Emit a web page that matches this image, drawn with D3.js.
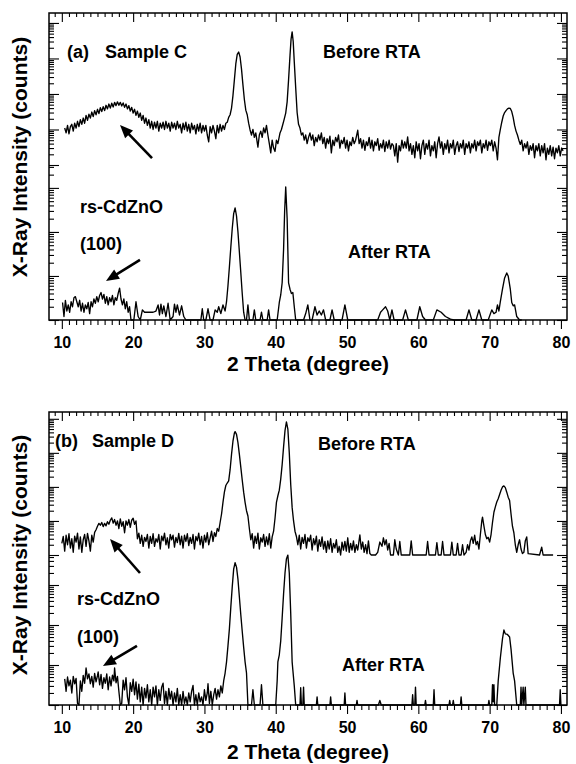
<!DOCTYPE html>
<html><head><meta charset="utf-8">
<script src="https://cdn.jsdelivr.net/npm/d3@7/dist/d3.min.js"></script>
<style>
body{margin:0;background:#fff}
svg text{font-family:"Liberation Sans",Arial,Helvetica,sans-serif;font-weight:bold;fill:#000}
</style></head><body>
<svg id="chart" width="576" height="764"></svg>
<script>
// ---------------- DATA ----------------
const xTickLabels = [10, 20, 30, 40, 50, 60, 70, 80];
const xTitle = "2 Theta (degree)";
const yTitle = "X-Ray Intensity (counts)";

// Panel (a) Sample C, before RTA: [2theta (deg), counts]
const aBefore = [[10.4,11],[10.6,8],[10.8,13],[11.0,7.5],[11.2,12],[11.4,14],[11.6,9],[11.8,15],[12.0,11],[12.2,17],[12.4,12],[12.6,19],[12.8,14],[13.0,21],[13.2,15],[13.4,25],[13.6,18],[13.8,27],[14.0,21],[14.2,31],[14.4,23],[14.6,34],[14.8,26],[15.0,37],[15.2,28],[15.4,41],[15.6,32],[15.8,44],[16.0,34],[16.2,48],[16.4,38],[16.6,52],[16.8,40],[17.0,55],[17.2,43],[17.4,58],[17.6,47],[17.8,60],[18.0,48],[18.2,58],[18.4,46],[18.6,56],[18.8,42],[19.0,52],[19.2,38],[19.4,47],[19.6,33],[19.8,42],[20.0,29],[20.2,37],[20.4,25],[20.6,33],[20.8,22],[21.0,29],[21.2,18],[21.4,25],[21.6,15],[21.8,21],[22.0,13],[22.2,19],[22.4,11],[22.6,17],[22.8,10],[23.0,16],[23.2,11],[23.4,17],[23.6,9],[23.8,15],[24.0,11],[24.2,16],[24.4,10],[24.6,17],[24.8,11],[25.0,15],[25.2,9],[25.4,16],[25.6,11],[25.8,15],[26.0,10],[26.2,17],[26.4,11],[26.6,14],[26.8,8],[27.0,15],[27.2,10],[27.4,16],[27.6,9],[27.8,14],[28.0,8],[28.2,15],[28.4,10],[28.6,13],[28.8,7.5],[29.0,14],[29.2,9],[29.4,15],[29.6,8],[29.8,13],[30.0,9],[30.2,13],[30.4,7],[30.6,4.5],[30.8,12],[31.0,8],[31.2,13],[31.4,9],[31.6,5.5],[31.8,13],[32.0,8],[32.2,14],[32.4,9],[32.6,13],[32.8,10],[33.0,15],[33.2,16],[33.4,22],[33.6,26],[33.8,40],[34.0,90],[34.2,250],[34.4,700],[34.6,1300],[34.8,1520],[35.0,1100],[35.2,500],[35.4,180],[35.6,70],[35.8,35],[36.0,26],[36.2,15],[36.4,9.7],[36.6,7],[36.8,10],[37.0,6],[37.2,8],[37.5,3.2],[37.7,7],[37.9,9],[38.1,6],[38.3,11],[38.5,8],[38.7,13],[38.9,7],[39.1,4],[39.3,2.2],[39.5,5],[39.7,3],[39.9,2.4],[40.1,5],[40.3,4],[40.6,8],[40.8,10],[41.0,14],[41.2,20],[41.4,29],[41.6,60],[41.8,250],[42.0,1200],[42.15,3500],[42.3,5600],[42.45,3000],[42.6,800],[42.8,150],[43.0,30],[43.2,14],[43.4,11],[43.6,7],[43.8,8],[44.0,5],[44.2,7],[44.4,4],[44.6,6],[44.8,8],[45.0,5],[45.2,7],[45.4,3.5],[45.6,6],[45.8,4.5],[46.0,7],[46.2,5],[46.4,8],[46.6,4],[46.8,6],[47.0,3],[47.2,5.5],[47.4,4],[47.6,6.5],[47.8,2.2],[48.0,5],[48.2,3.5],[48.4,6],[48.6,4.5],[48.8,7],[49.0,3],[49.2,5],[49.4,4],[49.6,6],[49.8,3],[50.0,5],[50.2,2.5],[50.4,4.5],[50.6,3.5],[50.8,6],[51.0,4],[51.2,5],[51.5,9.5],[51.7,4],[51.9,5.5],[52.1,3],[52.3,5],[52.5,2.6],[52.7,4.5],[52.9,3.5],[53.1,6],[53.3,3],[53.5,5],[53.7,2.5],[53.9,4.5],[54.1,3.5],[54.3,5.5],[54.5,2.6],[54.7,4],[54.9,3],[55.1,5],[55.3,2.4],[55.5,4.5],[55.7,3],[55.9,5],[56.1,2.8],[56.3,4],[56.5,3.5],[56.7,1.8],[56.9,4],[57.1,1.2],[57.3,3.5],[57.5,2.5],[57.7,5],[57.9,3],[58.1,4.5],[58.3,3],[58.5,6.2],[58.7,2.5],[58.9,4],[59.1,2],[59.3,3.5],[59.5,1.6],[59.7,4.5],[59.9,2.5],[60.1,4],[60.3,1.5],[60.5,3.5],[60.7,5],[60.9,2],[61.1,4],[61.3,2.8],[61.5,5],[61.7,1.8],[61.9,3.5],[62.1,2.5],[62.3,4.5],[62.5,1.6],[62.7,4],[62.9,6.2],[63.1,3],[63.3,4.5],[63.5,2],[63.7,4],[63.9,2.8],[64.1,5],[64.3,2.2],[64.5,4],[64.7,3],[64.9,5],[65.1,2],[65.3,3.5],[65.5,4.5],[65.7,2.4],[65.9,4],[66.1,3],[66.3,5],[66.5,2],[66.7,4],[66.9,3],[67.1,4.5],[67.3,2.2],[67.5,4],[67.7,3],[67.9,5],[68.1,2.5],[68.3,4.5],[68.5,3.5],[68.7,5],[68.9,2.2],[69.1,4],[69.3,3],[69.5,5],[69.7,2.6],[69.9,4.5],[70.1,3.5],[70.3,5],[70.5,2.5],[70.7,4.5],[70.9,3],[71.1,1.4],[71.3,6],[71.5,10],[71.7,16],[71.9,24],[72.1,30],[72.3,34],[72.5,38],[72.7,40],[72.9,39],[73.1,32],[73.3,22],[73.5,13],[73.7,9],[73.9,7],[74.1,5],[74.3,3.8],[74.5,5],[74.7,2.5],[74.9,4],[75.1,3],[75.3,4.5],[75.5,2],[75.7,3.5],[75.9,2.6],[76.1,4],[76.3,1.6],[76.5,3.5],[76.7,2.5],[76.9,4],[77.1,1.8],[77.3,3.5],[77.5,2.2],[77.7,4],[77.9,1.4],[78.1,3],[78.3,2],[78.5,3.5],[78.7,1.8],[78.9,3.2],[79.1,1.5],[79.3,3],[79.5,2.2],[79.7,3.5],[79.9,1.8],[80.1,3],[80.3,2.5]];

// Panel (a) Sample C, after RTA
const aAfter = [[10.1,2.5],[10.3,1.2],[10.5,2.8],[10.7,1.6],[10.9,2.2],[11.1,1.5],[11.3,2.6],[11.5,2],[11.7,3.2],[11.9,3.4],[12.1,2.6],[12.3,2],[12.5,2.8],[12.7,1.6],[12.9,2.4],[13.1,1.5],[13.3,2.2],[13.5,1.8],[13.7,2.5],[13.9,1.4],[14.1,2.6],[14.3,2],[14.5,3],[14.7,2.4],[14.9,3.4],[15.1,2.6],[15.3,3.6],[15.5,4.2],[15.7,3],[15.9,3.8],[16.1,2.4],[16.3,3.4],[16.5,2.2],[16.7,3.2],[16.9,2.6],[17.1,3.6],[17.3,2.2],[17.5,3.2],[17.7,2.8],[17.9,4],[18.1,5.3],[18.3,3],[18.5,2.2],[18.7,3],[18.9,1.8],[19.1,2.6],[19.3,1.5],[19.5,2],[19.7,1],[20.1,1],[20.4,2.6],[20.7,1.2],[21.0,1],[21.3,1.7],[21.6,1.5],[22.0,1.5],[22.4,1.5],[22.8,1.5],[23.2,1.6],[23.5,2.2],[23.7,1.3],[23.9,2.3],[24.1,1.4],[24.3,2.1],[24.6,1.2],[24.9,2.4],[25.2,1],[25.6,1.2],[25.8,2.3],[26.0,1.5],[26.2,2.2],[26.5,1.3],[26.8,2.1],[27.1,1.2],[27.4,1],[29.5,1],[29.7,1.8],[29.9,1],[30.2,1],[30.5,1.8],[30.8,1],[31.2,1],[31.5,1.7],[31.8,1.5],[32.0,2],[32.3,1.4],[32.6,2.2],[32.9,1.6],[33.1,2.6],[33.3,6],[33.5,16],[33.7,45],[33.9,120],[34.1,260],[34.3,350],[34.5,230],[34.7,100],[34.9,35],[35.1,12],[35.3,4],[35.5,1.5],[35.7,1],[35.9,1],[36.1,2.2],[36.3,1],[36.8,1],[37.0,1.7],[37.2,1],[37.8,1],[38.0,1.5],[38.2,1],[38.8,1],[39.0,1.7],[39.2,1],[40.2,1],[40.5,2.5],[40.7,3.7],[40.9,7],[41.1,40],[41.25,300],[41.4,1050],[41.6,200],[41.8,7],[42.0,5],[42.2,4],[42.4,4.2],[42.6,2],[42.8,1],[43.9,1],[44.2,1.4],[44.5,2.2],[44.8,1],[45.1,1],[45.5,2],[45.8,1.3],[46.1,1.6],[46.4,1.3],[46.7,1.7],[47.0,1],[47.6,1],[47.9,1.7],[48.2,1],[49.3,1],[49.7,2.2],[50.1,1],[54.3,1],[54.7,1.5],[55.0,1.7],[55.4,2],[55.7,1.6],[56.0,1],[56.3,1.7],[56.6,1],[57.8,1],[58.2,1.7],[58.6,1],[59.8,1],[60.2,2],[60.6,1.2],[61.0,1],[62.1,1],[62.6,1.7],[63.2,1.5],[63.8,1.2],[64.5,1.05],[65.0,1],[66.7,1],[67.1,1.7],[67.5,1],[68.1,1],[68.5,1.7],[68.9,1],[69.8,1],[70.3,1.7],[70.6,1.4],[70.9,1.5],[71.1,2.2],[71.3,1.6],[71.5,2.6],[71.8,5],[72.1,9],[72.4,11.7],[72.6,10],[72.9,5],[73.1,2.5],[73.3,2.1],[73.5,2.2],[73.8,1.2],[74.2,1],[74.5,1]];

// Panel (b) Sample D, before RTA
const bBefore = [[10.0,2.2],[10.2,3.5],[10.4,1.3],[10.6,3.8],[10.8,2],[11.0,4.2],[11.2,1.6],[11.4,3],[11.6,1.2],[11.8,3.6],[12.0,2.4],[12.2,4.4],[12.4,1.5],[12.6,3.4],[12.8,1.2],[13.0,2.8],[13.2,4],[13.4,1.8],[13.6,4.3],[13.8,2.6],[14.0,1.3],[14.2,3.8],[14.4,2.4],[14.6,4.6],[14.8,5.5],[15.0,7],[15.2,8.5],[15.4,7.5],[15.6,9],[15.8,6.8],[16.0,8.5],[16.2,7.2],[16.4,9.5],[16.6,8],[16.8,10.5],[17.0,12.3],[17.2,8.6],[17.4,11],[17.6,7.5],[17.8,10],[18.0,6],[18.2,11.5],[18.4,7],[18.6,9.5],[18.8,4.5],[19.0,10],[19.2,7.5],[19.4,11],[19.6,6.5],[19.8,10.5],[20.0,12],[20.2,8],[20.4,10],[20.6,3],[20.8,4.4],[21.0,2.2],[21.2,3.8],[21.4,1.8],[21.6,3.3],[21.8,2.5],[22.0,4],[22.2,1.6],[22.4,3.5],[22.6,2.2],[22.8,4.2],[23.0,1.8],[23.2,3],[23.4,2.4],[23.6,4],[23.8,1.5],[24.0,3.6],[24.2,2.6],[24.4,4.4],[24.6,2],[24.8,3.2],[25.0,1.6],[25.2,4],[25.4,2.8],[25.6,3.8],[25.8,1.7],[26.0,3.3],[26.2,2.3],[26.4,4.3],[26.6,2],[26.8,3.6],[27.0,1.6],[27.2,3.8],[27.4,2.5],[27.6,4.2],[27.8,1.9],[28.0,3.3],[28.2,2.2],[28.4,4],[28.6,1.5],[28.8,3.5],[29.0,2.6],[29.2,4.4],[29.4,2],[29.6,3.5],[29.8,1.6],[30.0,3.8],[30.2,2.4],[30.4,4.5],[30.6,2],[30.8,3.2],[31.0,5],[31.2,2.5],[31.4,4.5],[31.6,3.5],[31.8,6],[32.0,5],[32.2,9],[32.4,16],[32.6,35],[32.8,70],[33.0,110],[33.2,130],[33.4,150],[33.6,320],[33.8,900],[34.0,2200],[34.2,3800],[34.3,4200],[34.5,3500],[34.7,2000],[34.9,900],[35.1,380],[35.3,160],[35.5,70],[35.7,35],[35.9,20],[36.1,14],[36.3,6],[36.5,2.8],[36.7,4.2],[36.9,1.6],[37.1,3.6],[37.3,2.2],[37.5,4.4],[37.7,1.5],[37.9,3.2],[38.1,2.4],[38.3,4],[38.5,1.8],[38.7,3.4],[38.9,2],[39.1,4.2],[39.3,1.6],[39.5,3.4],[39.7,5],[39.9,12],[40.1,35],[40.3,55],[40.5,80],[40.7,170],[40.9,450],[41.1,1500],[41.3,4500],[41.5,8100],[41.7,5000],[41.9,1000],[42.1,120],[42.3,25],[42.5,10],[42.7,5],[42.9,3.5],[43.1,2],[43.3,3.8],[43.5,1.5],[43.7,3.3],[43.9,2.2],[44.1,4],[44.3,1.6],[44.5,3.2],[44.7,2.5],[44.9,3.8],[45.1,1.4],[45.3,3],[45.5,2],[45.7,3.6],[45.9,1.3],[46.1,2.8],[46.3,1.8],[46.5,3.4],[46.7,1.5],[46.9,2.5],[47.1,1.2],[47.3,2.6],[47.5,1.5],[47.7,3],[47.9,1.2],[48.1,2.2],[48.3,1.6],[48.5,2.8],[48.7,1.2],[48.9,1.8],[49.1,1],[49.3,2.4],[49.5,1.4],[49.7,2.5],[49.9,1.3],[50.1,3.2],[50.3,1.2],[50.5,2.2],[50.7,1.4],[50.9,2.6],[51.1,1.2],[51.3,2],[51.5,1.4],[51.8,3.9],[52.0,1.5],[52.2,2.4],[52.4,1.2],[52.6,2],[52.8,1.1],[53.0,2.6],[53.2,1.1],[53.4,1],[54.0,1],[54.3,1.2],[54.6,2.4],[54.9,1.8],[55.1,3.2],[55.3,2],[55.5,2.8],[55.7,1.4],[55.9,2.2],[56.1,1],[56.5,1],[56.7,2.8],[56.9,1.5],[57.2,1],[57.4,2.5],[57.6,1],[58.8,1],[59.0,2.6],[59.2,1],[61.1,1],[61.3,2.5],[61.5,1],[62.4,1],[62.6,2.3],[62.8,1],[63.2,1],[63.4,2.5],[63.6,1],[64.5,1],[64.7,2.4],[64.9,1],[65.3,1],[65.5,2.2],[65.7,1],[66.0,1],[66.2,2],[66.4,1],[66.7,1.2],[66.9,2],[67.1,1.4],[67.3,2.6],[67.5,3.4],[67.7,2.2],[67.9,3.8],[68.1,2],[68.3,2.5],[68.5,1.5],[68.7,4],[68.9,10],[69.0,13],[69.2,7],[69.4,4],[69.6,3],[69.8,3.3],[70.0,2.4],[70.2,4],[70.4,9],[70.6,18],[70.8,26],[71.0,36],[71.2,45],[71.4,60],[71.6,80],[71.8,100],[72.0,107],[72.2,95],[72.4,70],[72.6,50],[72.8,40],[73.0,16],[73.2,7],[73.4,4.5],[73.6,2],[73.8,1.2],[74.0,2],[74.2,2.8],[74.4,1.5],[74.6,1.1],[74.8,1.2],[75.0,2.6],[75.2,3.4],[75.4,1.1],[77.0,1],[77.3,1.7],[77.5,1],[78.9,1]];

// Panel (b) Sample D, after RTA
const bAfter = [[10.4,4.5],[10.6,2.2],[10.8,5],[11.0,3],[11.2,4.2],[11.4,2],[11.6,5.2],[11.8,3.4],[12.0,4.6],[12.2,1.1],[12.4,1],[12.6,4],[12.8,2.2],[13.0,5.5],[13.2,3.5],[13.4,8.4],[13.6,4.5],[13.8,6],[14.0,3.4],[14.2,5.2],[14.4,2.8],[14.6,6.2],[14.8,3.8],[15.0,5.4],[15.1,6.7],[15.3,3.2],[15.5,5.8],[15.7,2.6],[15.9,4.8],[16.1,3.5],[16.3,6],[16.5,2.4],[16.7,5],[16.9,3],[17.1,5.6],[17.3,4],[17.4,8.4],[17.6,3.6],[17.8,5.2],[18.0,2.2],[18.2,1],[18.4,1.1],[18.6,4.2],[18.8,2.4],[19.0,4.8],[19.2,1.6],[19.4,1],[19.6,3.6],[19.8,2.2],[20.0,4.4],[20.2,1.8],[20.4,3.8],[20.6,1.4],[20.8,3.3],[21.0,1.2],[21.2,2.8],[21.4,1],[21.6,2.6],[21.8,1.5],[22.0,3.2],[22.2,1.2],[22.4,2.4],[22.6,1],[22.8,2.8],[23.0,1.6],[23.2,3],[23.4,1],[23.6,2.4],[23.8,1.3],[24.0,2.8],[24.2,3.5],[24.4,1.1],[24.6,2.2],[24.8,1],[25.0,2.6],[25.2,1.4],[25.4,2.2],[25.6,1],[25.8,2],[26.0,1.2],[26.2,2.6],[26.4,1],[26.6,1.8],[26.8,1],[27.0,2.2],[27.2,1.1],[27.4,1.6],[27.6,1],[27.8,2],[28.0,1.2],[28.2,2.2],[28.4,3.1],[28.6,1],[28.8,1.8],[29.0,1],[29.2,2],[29.4,1.2],[29.6,1.6],[29.8,1],[30.0,2.4],[30.2,1.3],[30.4,2],[30.5,3.4],[30.7,1.1],[30.9,2.2],[31.1,1],[31.3,1.8],[31.5,2.6],[31.7,1.4],[31.9,2.4],[32.1,1.6],[32.3,3],[32.5,2],[32.7,4],[32.9,6.3],[33.1,12],[33.3,30],[33.5,80],[33.7,280],[33.9,900],[34.1,2500],[34.3,3600],[34.5,2800],[34.7,1400],[34.9,500],[35.1,180],[35.3,70],[35.5,28],[35.7,12],[35.9,6.3],[36.1,1],[36.6,1],[36.8,2.4],[37.0,1],[37.8,1],[38.0,3.2],[38.2,1],[40.0,1],[40.2,4],[40.3,12],[40.5,18],[40.7,40],[40.9,150],[41.1,600],[41.3,2000],[41.5,4500],[41.7,5600],[41.9,2000],[42.1,200],[42.3,12],[42.4,7.5],[42.6,3],[42.8,1],[43.4,1],[43.5,2.7],[43.6,1],[43.8,1],[43.9,2.8],[44.0,1],[45.7,1],[45.8,1.6],[45.9,1],[47.6,1],[47.7,1.6],[47.8,1],[49.6,1],[49.7,2],[49.8,1],[51.3,1],[51.4,1.3],[51.5,1],[54.4,1],[54.6,1.3],[54.8,1],[59.1,1],[59.2,1.8],[59.3,1],[59.5,1],[59.6,2.8],[59.7,1],[60.9,1],[61.0,1.3],[61.1,1],[62.1,1],[62.2,2.4],[62.3,1],[64.3,1],[64.4,1.3],[64.5,1],[64.8,1],[64.9,1.3],[65.0,1],[65.9,1],[66.0,1.6],[66.1,1],[69.8,1],[69.9,1.3],[70.0,1],[70.3,1],[70.4,3.2],[70.5,1.2],[70.6,3.2],[70.7,1],[71.0,1],[71.2,4],[71.5,15],[71.8,45],[72.0,75],[72.2,60],[72.5,58],[72.8,50],[73.0,25],[73.3,6.3],[73.5,4],[73.8,1],[74.3,1],[74.4,2.8],[74.5,1],[74.7,2.8],[74.8,1],[75.0,2.8],[75.1,1],[79.8,1],[79.9,2.4],[80.0,1]];

// ---------------- LAYOUT ----------------
const L = 49, R = 567;
const xDomain = [8.2, 80.85];
const svg = d3.select("#chart");

const panels = [
  { top: 13, split: 165, bottom: 320, upExp: 4.28, loExp: 3.52,
    before: aBefore, after: aAfter,
    xTitleY: 371, yTitleCY: 157,
    labels: [
      {t: "(a)", x: 67, y: 58}, {t: "Sample C", x: 105, y: 58},
      {t: "Before RTA", x: 323, y: 58},
      {t: "rs-CdZnO", x: 80, y: 213}, {t: "(100)", x: 80, y: 250},
      {t: "After RTA", x: 348, y: 258}
    ],
    arrows: [
      {from: [22.65, 1.57, "U"], to: [18.16, 13.4, "U"]},
      {from: [20.96, 23.1, "L"], to: [16.19, 7.7, "L"]}
    ] },
  { top: 412, split: 555, bottom: 705, upExp: 4.2, loExp: 3.75,
    before: bBefore, after: bAfter,
    xTitleY: 759, yTitleCY: 555,
    labels: [
      {t: "(b)", x: 55, y: 447}, {t: "Sample D", x: 92, y: 447},
      {t: "Before RTA", x: 318, y: 450},
      {t: "rs-CdZnO", x: 77, y: 605}, {t: "(100)", x: 77, y: 643},
      {t: "After RTA", x: 342, y: 671}
    ],
    arrows: [
      {from: [20.96, 1995, "L"], to: [16.76, 2.95, "U"]},
      {from: [20.54, 29.9, "L"], to: [15.77, 9.4, "L"]}
    ] }
];

function logTicks(maxExp) {
  const major = [], minor = [];
  for (let n = 0; n <= Math.floor(maxExp); n++) {
    major.push(Math.pow(10, n));
    for (let k = 2; k < 10; k++) {
      const v = k * Math.pow(10, n);
      if (Math.log10(v) <= maxExp) minor.push(v);
    }
  }
  return {major, minor};
}

function clean(g) {
  g.select(".domain").remove();
  g.selectAll(".tick line").attr("stroke", "#000").attr("stroke-width", 1.1);
}

function drawPanel(p) {
  const g = svg.append("g");
  const x = d3.scaleLinear().domain(xDomain).range([L, R]);
  const yU = d3.scaleLog().domain([1, Math.pow(10, p.upExp)]).range([p.split, p.top]);
  const yL = d3.scaleLog().domain([1, Math.pow(10, p.loExp)]).range([p.bottom, p.split]);

  const minorX = d3.range(9, 81).filter(v => v % 10 !== 0);
  g.append("g").attr("transform", `translate(0,${p.bottom})`)
    .call(d3.axisBottom(x).tickValues(minorX).tickSize(5).tickFormat("")).call(clean);
  g.append("g").attr("transform", `translate(0,${p.bottom})`)
    .call(d3.axisBottom(x).tickValues(xTickLabels).tickSize(9).tickPadding(8).tickFormat(d => String(d)))
    .call(clean)
    .call(a => a.selectAll("text").attr("font-size", 16).attr("font-family", "Liberation Sans, Arial, sans-serif").attr("font-weight", "bold").attr("fill", "#000"));
  g.append("g").attr("transform", `translate(0,${p.top})`)
    .call(d3.axisTop(x).tickValues(minorX).tickSize(-4).tickFormat("")).call(clean);
  g.append("g").attr("transform", `translate(0,${p.top})`)
    .call(d3.axisTop(x).tickValues(xTickLabels).tickSize(-9).tickFormat("")).call(clean);

  [[yU, p.upExp], [yL, p.loExp]].forEach(([ys, ex]) => {
    const t = logTicks(ex);
    g.append("g").attr("transform", `translate(${L},0)`)
      .call(d3.axisLeft(ys).tickValues(t.minor).tickSize(-5).tickFormat("")).call(clean);
    g.append("g").attr("transform", `translate(${L},0)`)
      .call(d3.axisLeft(ys).tickValues(t.major).tickSize(-10).tickFormat("")).call(clean);
    g.append("g").attr("transform", `translate(${R},0)`)
      .call(d3.axisRight(ys).tickValues(t.minor).tickSize(-5).tickFormat("")).call(clean);
    g.append("g").attr("transform", `translate(${R},0)`)
      .call(d3.axisRight(ys).tickValues(t.major).tickSize(-10).tickFormat("")).call(clean);
  });

  g.append("rect").attr("x", L).attr("y", p.top).attr("width", R - L).attr("height", p.bottom - p.top)
    .attr("fill", "none").attr("stroke", "#000").attr("stroke-width", 1.5);

  const lineU = d3.line().x(d => x(d[0])).y(d => yU(d[1]));
  const lineL = d3.line().x(d => x(d[0])).y(d => yL(d[1]));
  g.append("path").datum(p.before).attr("d", lineU)
    .attr("fill", "none").attr("stroke", "#000").attr("stroke-width", 1.35).attr("stroke-linejoin", "round");
  g.append("path").datum(p.after).attr("d", lineL)
    .attr("fill", "none").attr("stroke", "#000").attr("stroke-width", 1.35).attr("stroke-linejoin", "round");

  p.labels.forEach(l => {
    g.append("text").attr("x", l.x).attr("y", l.y).attr("font-size", 18).text(l.t);
  });

  const pt = (a) => [x(a[0]), (a[2] === "U" ? yU : yL)(a[1])];
  p.arrows.forEach(a => {
    const [x1, y1] = pt(a.from), [x2, y2] = pt(a.to);
    const dx = x2 - x1, dy = y2 - y1, len = Math.hypot(dx, dy);
    const ux = dx / len, uy = dy / len;
    const hl = 13, hw = 5.5;
    const bx = x2 - ux * hl, by = y2 - uy * hl;
    g.append("line").attr("x1", x1).attr("y1", y1).attr("x2", bx + ux).attr("y2", by + uy)
      .attr("stroke", "#000").attr("stroke-width", 2.6);
    g.append("polygon")
      .attr("points", [[x2, y2], [bx - uy * hw, by + ux * hw], [bx + uy * hw, by - ux * hw]].map(q => q.join(",")).join(" "))
      .attr("fill", "#000");
  });

  g.append("text").attr("x", (L + R) / 2).attr("y", p.xTitleY).attr("text-anchor", "middle")
    .attr("font-size", 21).text(xTitle);
  g.append("text").attr("transform", `translate(27,${p.yTitleCY}) rotate(-90)`).attr("text-anchor", "middle")
    .attr("font-size", 21).text(yTitle);
}

panels.forEach(drawPanel);
</script>
</body></html>
